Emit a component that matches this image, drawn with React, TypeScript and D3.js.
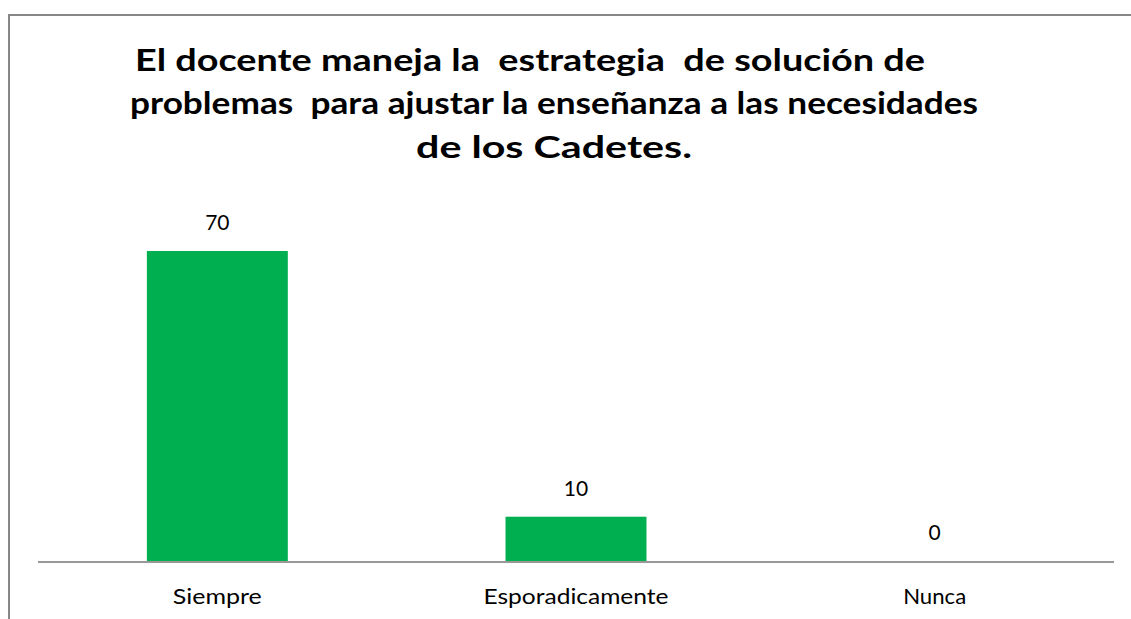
import React from "react";
import * as d3 from "d3";

const categories = ["Siempre", "Esporadicamente", "Nunca"];
const values = [70, 10, 0];
const titleLines = [
  "El docente maneja la  estrategia  de solución de",
  "problemas  para ajustar la enseñanza a las necesidades",
  "de los Cadetes.",
];

const W = 1131;
const H = 619;

export default function App() {
  const x = d3.scaleBand<string>().domain(categories).range([38, 1114]).paddingInner(0.607).paddingOuter(0.3035);
  const y = d3.scaleLinear().domain([0, 70]).range([561, 251]);

  const titleSpecs = [
    { x0: 135, x1: 925, base: 71 },
    { x0: 130, x1: 978, base: 114 },
    { x0: 416, x1: 692, base: 158 },
  ];
  const catWidths = [89, 185, 63];
  const font = "Lato, 'Open Sans', sans-serif";

  return (
    <svg width={W} height={H} style={{ position: "absolute", left: 0, top: 0, background: "#fff" }}>
      <rect x={9} y={15} width={1200} height={700} fill="#fff" stroke="#878787" strokeWidth={2} />
      {titleLines.map((t, i) => (
        <text
          key={i}
          x={titleSpecs[i].x0}
          y={titleSpecs[i].base}
          fontFamily={font}
          fontWeight="bold"
          fontSize={30}
          textLength={titleSpecs[i].x1 - titleSpecs[i].x0}
          lengthAdjust="spacingAndGlyphs"
          style={{ whiteSpace: "pre" }}
          fill="#000"
        >
          {t}
        </text>
      ))}
      {categories.map((c, i) => (
        <g key={c}>
          {values[i] > 0 && (
            <rect x={x(c)!} y={y(values[i])} width={x.bandwidth()} height={y(0) - y(values[i])} fill="#00B050" />
          )}
          <text
            x={x(c)! + x.bandwidth() / 2}
            y={y(values[i]) - 21}
            textAnchor="middle"
            fontFamily={font}
            fontSize={21}
            fill="#000"
          >
            {values[i]}
          </text>
          <text
            x={x(c)! + x.bandwidth() / 2}
            y={604}
            textAnchor="middle"
            fontFamily={font}
            fontSize={21}
            textLength={catWidths[i]}
            lengthAdjust="spacingAndGlyphs"
            fill="#000"
          >
            {c}
          </text>
        </g>
      ))}
      <line x1={38} x2={1114} y1={562} y2={562} stroke="#989898" strokeWidth={2} />
    </svg>
  );
}
